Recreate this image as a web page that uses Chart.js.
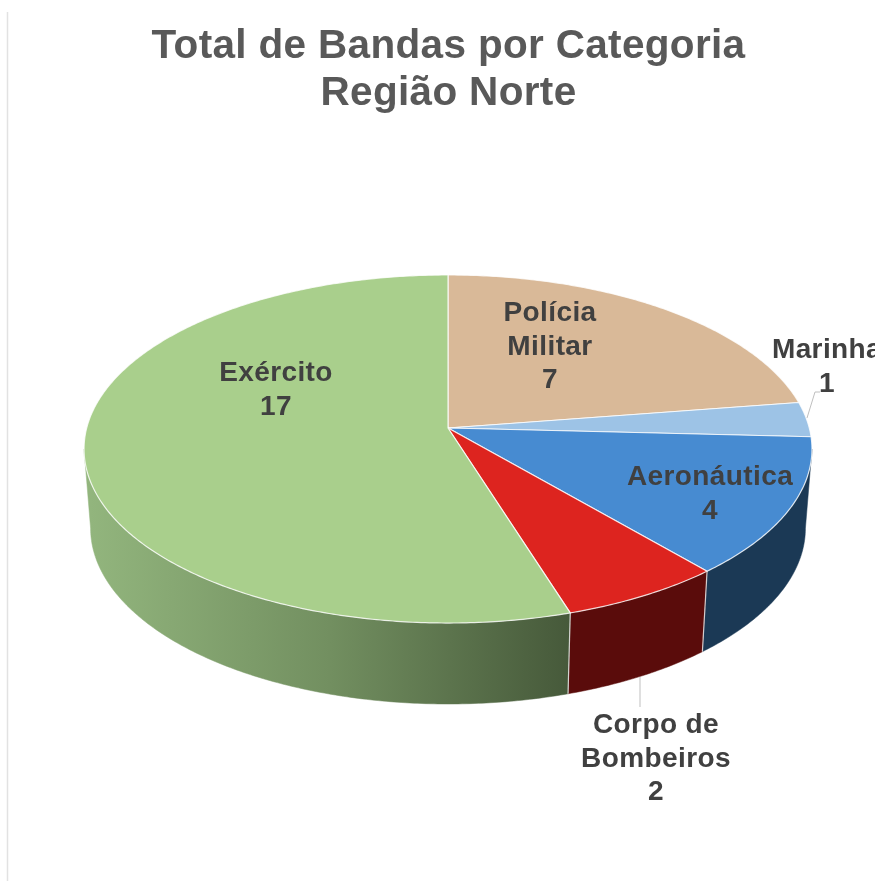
<!DOCTYPE html>
<html lang="pt">
<head>
<meta charset="utf-8">
<title>Total de Bandas por Categoria</title>
<script src="https://cdn.jsdelivr.net/npm/chart.js@4/dist/chart.umd.min.js"></script>
<style>
    html, body { margin: 0; padding: 0; background: #fff; overflow: hidden; }
    canvas { display: block; }
</style>
</head>
<body>
<canvas id="bandasChart" width="875" height="881"></canvas>
<script>
const titleLines = ['Total de Bandas por Categoria', 'Região Norte'];
const categories = ['Polícia Militar', 'Marinha', 'Aeronáutica', 'Corpo de Bombeiros', 'Exército'];
const bandas = [7, 1, 4, 2, 17];

const faceColors = ['#d9b998', '#9dc3e6', '#478bd1', '#dd241f', '#a9cf8c'];
const wallColors = [null, null, '#1b3955', '#5a0c0b', 'green'];

// wrapped category text and where each label block sits (centre x, first baseline)
const labelLines = [['Polícia', 'Militar'], ['Marinha'], ['Aeronáutica'], ['Corpo de', 'Bombeiros'], ['Exército']];
const labelAnchors = [[550, 321], [827, 358], [710, 485], [656, 733], [276, 381]];
const leaderLines = [
    [[807, 418], [815, 392], [820, 392]],
    [[640, 677], [640, 707]]
];

// perspective of the tilted disc: apex of the slices, radii and foreshortening
const CX = 448, CY = 428, RX = 361.3, RY = 171.5, K = -0.1207;
// lower rim of the disc
const DROP = 79, RIM_SX = 0.982, RIM_SY = 1.01;
// the wall shows between the two tangent points of the silhouette
const WALL_FROM = 0.121, WALL_TO = Math.PI - 0.121;

function rimPoint(angle, lower) {
    const u = Math.cos(angle), v = Math.sin(angle);
    const d = 1 + K * v;
    if (lower) {
        return [CX + RX * RIM_SX * u / d, CY + DROP + RY * RIM_SY * v / d];
    }
    return [CX + RX * u / d, CY + RY * v / d];
}

function traceRim(ctx, from, to, lower) {
    const steps = Math.max(2, Math.ceil(Math.abs(to - from) / 0.01));
    for (let i = 0; i <= steps; i++) {
        const p = rimPoint(from + (to - from) * i / steps, lower);
        ctx.lineTo(p[0], p[1]);
    }
}

function wallFill(ctx, color) {
    if (color !== 'green') return color;
    const g = ctx.createLinearGradient(90, 0, 570, 0);
    g.addColorStop(0, '#92b57d');
    g.addColorStop(0.5, '#728f60');
    g.addColorStop(1, '#46593a');
    return g;
}

const disc3d = {
    id: 'disc3d',
    beforeDraw(chart) {
        // the title runs a little wider than the plain font
        chart.ctx.letterSpacing = '0.33px';
    },
    // the arcs keep the angles Chart.js worked out, only their shape is projected
    beforeDatasetDraw(chart) {
        const ctx = chart.ctx;
        const arcs = chart.getDatasetMeta(0).data;

        ctx.save();
        ctx.lineJoin = 'round';

        arcs.forEach((arc, i) => {
            const from = Math.max(arc.startAngle, WALL_FROM);
            const to = Math.min(arc.endAngle, WALL_TO);
            if (from >= to || !wallColors[i]) return;
            ctx.beginPath();
            traceRim(ctx, from, to, false);
            traceRim(ctx, to, from, true);
            ctx.closePath();
            ctx.fillStyle = wallFill(ctx, wallColors[i]);
            ctx.fill();
            ctx.strokeStyle = ctx.fillStyle;
            ctx.lineWidth = 0.5;
            ctx.stroke();
        });

        // seams between the wall sections
        ctx.strokeStyle = 'rgba(235, 235, 235, 0.85)';
        ctx.lineWidth = 1.2;
        arcs.forEach(arc => {
            if (arc.endAngle <= WALL_FROM || arc.endAngle >= WALL_TO) return;
            const a = rimPoint(arc.endAngle, false);
            const b = rimPoint(arc.endAngle, true);
            ctx.beginPath();
            ctx.moveTo(a[0], a[1]);
            ctx.lineTo(b[0], b[1]);
            ctx.stroke();
        });

        arcs.forEach((arc, i) => {
            ctx.beginPath();
            ctx.moveTo(CX, CY);
            traceRim(ctx, arc.startAngle, arc.endAngle, false);
            ctx.closePath();
            ctx.fillStyle = faceColors[i];
            ctx.fill();
            ctx.strokeStyle = 'rgba(255, 255, 255, 0.8)';
            ctx.lineWidth = 1.2;
            ctx.stroke();
        });

        ctx.restore();
        return false;
    },
    afterDatasetsDraw(chart) {
        const ctx = chart.ctx;
        ctx.save();

        ctx.strokeStyle = '#bfbfbf';
        ctx.lineWidth = 1;
        leaderLines.forEach(line => {
            ctx.beginPath();
            line.forEach(p => ctx.lineTo(p[0], p[1]));
            ctx.stroke();
        });

        ctx.font = 'bold 28px "Liberation Sans", Arial, sans-serif';
        ctx.letterSpacing = '0.4px';
        ctx.fillStyle = '#404040';
        ctx.textAlign = 'center';
        labelLines.forEach((lines, i) => {
            const rows = lines.concat(String(bandas[i]));
            rows.forEach((row, r) => {
                ctx.fillText(row, labelAnchors[i][0], labelAnchors[i][1] + r * 33.5);
            });
        });

        // faint edge of the slide on the left
        ctx.strokeStyle = '#e2e2e2';
        ctx.lineWidth = 1.5;
        ctx.beginPath();
        ctx.moveTo(7.5, 12);
        ctx.lineTo(7.5, 881);
        ctx.stroke();

        ctx.restore();
    }
};

new Chart(document.getElementById('bandasChart').getContext('2d'), {
    type: 'pie',
    data: {
        labels: categories,
        datasets: [{
            data: bandas,
            backgroundColor: faceColors
        }]
    },
    options: {
        responsive: false,
        animation: false,
        layout: { padding: { left: 22 } },
        plugins: {
            legend: { display: false },
            tooltip: { enabled: false },
            title: {
                display: true,
                text: titleLines,
                color: '#595959',
                font: { family: '"Liberation Sans", Arial, sans-serif', size: 40.5, weight: 'bold', lineHeight: 1.16 },
                padding: { top: 23, bottom: 10 }
            }
        }
    },
    plugins: [disc3d]
});
</script>
</body>
</html>
